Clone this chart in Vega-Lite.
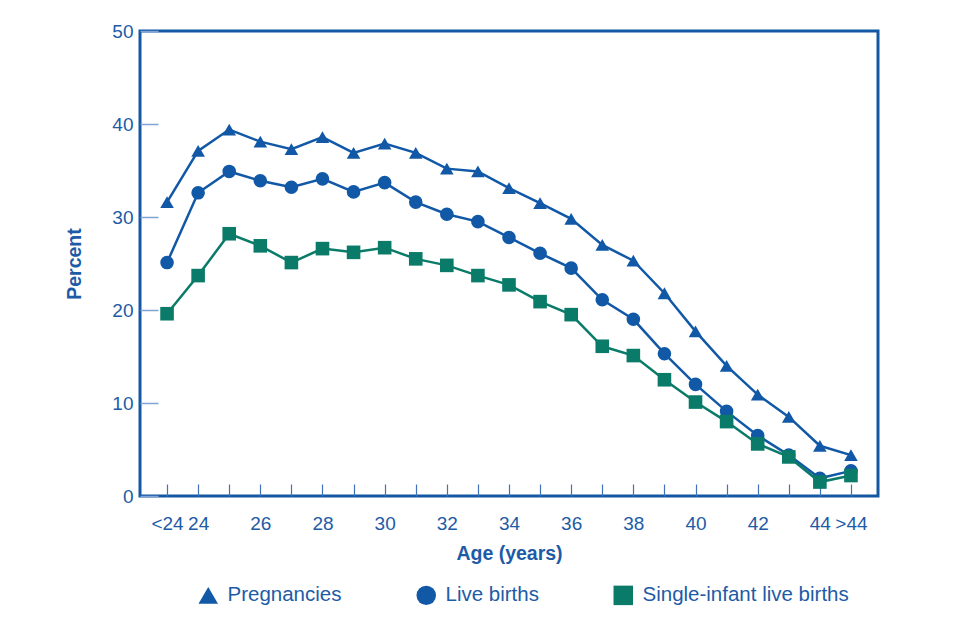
{
  "$schema": "https://vega.github.io/schema/vega-lite/v6.json",
  "autosize": "none",
  "width": 738,
  "height": 465,
  "padding": {"left": 140, "top": 31, "right": 82, "bottom": 128},
  "background": "white",
  "config": {
    "font": "Liberation Sans",
    "view": {"stroke": "#1458a4", "strokeWidth": 3},
    "axis": {"labelColor": "#1d5ba6", "titleColor": "#1d5ba6", "labelFont": "Liberation Sans", "titleFont": "Liberation Sans", "grid": false, "domain": false}
  },
  "data": {"values": [
    {"age": "<24", "series": "Pregnancies", "pct": 31.6},
    {"age": "24", "series": "Pregnancies", "pct": 37.1},
    {"age": "25", "series": "Pregnancies", "pct": 39.4},
    {"age": "26", "series": "Pregnancies", "pct": 38.1},
    {"age": "27", "series": "Pregnancies", "pct": 37.3},
    {"age": "28", "series": "Pregnancies", "pct": 38.6},
    {"age": "29", "series": "Pregnancies", "pct": 36.9},
    {"age": "30", "series": "Pregnancies", "pct": 37.9},
    {"age": "31", "series": "Pregnancies", "pct": 36.9},
    {"age": "32", "series": "Pregnancies", "pct": 35.2},
    {"age": "33", "series": "Pregnancies", "pct": 34.9},
    {"age": "34", "series": "Pregnancies", "pct": 33.1},
    {"age": "35", "series": "Pregnancies", "pct": 31.5},
    {"age": "36", "series": "Pregnancies", "pct": 29.8},
    {"age": "37", "series": "Pregnancies", "pct": 27.0},
    {"age": "38", "series": "Pregnancies", "pct": 25.3},
    {"age": "39", "series": "Pregnancies", "pct": 21.8},
    {"age": "40", "series": "Pregnancies", "pct": 17.7},
    {"age": "41", "series": "Pregnancies", "pct": 14.0},
    {"age": "42", "series": "Pregnancies", "pct": 10.9},
    {"age": "43", "series": "Pregnancies", "pct": 8.5},
    {"age": "44", "series": "Pregnancies", "pct": 5.4},
    {"age": ">44", "series": "Pregnancies", "pct": 4.4},
    {"age": "<24", "series": "Live births", "pct": 25.1},
    {"age": "24", "series": "Live births", "pct": 32.6},
    {"age": "25", "series": "Live births", "pct": 34.9},
    {"age": "26", "series": "Live births", "pct": 33.9},
    {"age": "27", "series": "Live births", "pct": 33.2},
    {"age": "28", "series": "Live births", "pct": 34.1},
    {"age": "29", "series": "Live births", "pct": 32.7},
    {"age": "30", "series": "Live births", "pct": 33.7},
    {"age": "31", "series": "Live births", "pct": 31.6},
    {"age": "32", "series": "Live births", "pct": 30.3},
    {"age": "33", "series": "Live births", "pct": 29.5},
    {"age": "34", "series": "Live births", "pct": 27.8},
    {"age": "35", "series": "Live births", "pct": 26.1},
    {"age": "36", "series": "Live births", "pct": 24.5},
    {"age": "37", "series": "Live births", "pct": 21.1},
    {"age": "38", "series": "Live births", "pct": 19.0},
    {"age": "39", "series": "Live births", "pct": 15.3},
    {"age": "40", "series": "Live births", "pct": 12.0},
    {"age": "41", "series": "Live births", "pct": 9.1},
    {"age": "42", "series": "Live births", "pct": 6.5},
    {"age": "43", "series": "Live births", "pct": 4.4},
    {"age": "44", "series": "Live births", "pct": 1.9},
    {"age": ">44", "series": "Live births", "pct": 2.7},
    {"age": "<24", "series": "Single-infant live births", "pct": 19.6},
    {"age": "24", "series": "Single-infant live births", "pct": 23.7},
    {"age": "25", "series": "Single-infant live births", "pct": 28.2},
    {"age": "26", "series": "Single-infant live births", "pct": 26.9},
    {"age": "27", "series": "Single-infant live births", "pct": 25.1},
    {"age": "28", "series": "Single-infant live births", "pct": 26.6},
    {"age": "29", "series": "Single-infant live births", "pct": 26.2},
    {"age": "30", "series": "Single-infant live births", "pct": 26.7},
    {"age": "31", "series": "Single-infant live births", "pct": 25.5},
    {"age": "32", "series": "Single-infant live births", "pct": 24.8},
    {"age": "33", "series": "Single-infant live births", "pct": 23.7},
    {"age": "34", "series": "Single-infant live births", "pct": 22.7},
    {"age": "35", "series": "Single-infant live births", "pct": 20.9},
    {"age": "36", "series": "Single-infant live births", "pct": 19.5},
    {"age": "37", "series": "Single-infant live births", "pct": 16.1},
    {"age": "38", "series": "Single-infant live births", "pct": 15.1},
    {"age": "39", "series": "Single-infant live births", "pct": 12.5},
    {"age": "40", "series": "Single-infant live births", "pct": 10.1},
    {"age": "41", "series": "Single-infant live births", "pct": 8.0},
    {"age": "42", "series": "Single-infant live births", "pct": 5.6},
    {"age": "43", "series": "Single-infant live births", "pct": 4.2},
    {"age": "44", "series": "Single-infant live births", "pct": 1.5},
    {"age": ">44", "series": "Single-infant live births", "pct": 2.2}
  ]},
  "encoding": {
    "x": {
      "field": "age", "type": "ordinal",
      "sort": ["<24","24","25","26","27","28","29","30","31","32","33","34","35","36","37","38","39","40","41","42","43","44",">44"],
      "scale": {"type": "point", "padding": 0.87},
      "axis": {
        "title": "Age (years)", "titleFontSize": 19.5, "titleFontWeight": "bold", "titlePadding": 11,
        "labelAngle": 0, "labelFontSize": 19, "labelPadding": 30,
        "labelExpr": "indexof(['25','27','29','31','33','35','37','39','41','43'], datum.label) >= 0 ? '' : datum.label",
        "tickSize": -12, "tickColor": "#3f72b8", "tickWidth": 1.2
      }
    },
    "y": {
      "field": "pct", "type": "quantitative",
      "scale": {"domain": [0, 50], "nice": false},
      "axis": {
        "title": "Percent", "titleFontSize": 19.5, "titleFontWeight": "bold", "titlePadding": 27,
        "labelFontSize": 19, "labelPadding": 25, "values": [0,10,20,30,40,50],
        "tickSize": -18, "tickColor": "#7fa3d3", "tickWidth": 1.5
      }
    },
    "color": {
      "field": "series", "type": "nominal",
      "scale": {"domain": ["Pregnancies", "Live births", "Single-infant live births"], "range": ["#1158a7", "#1158a7", "#0a7b68"]},
      "legend": {
        "title": null, "orient": "none", "legendX": 58, "legendY": 554, "direction": "horizontal",
        "labelFontSize": 20.5, "labelColor": "#1d5ba6", "labelFont": "Liberation Sans", "labelLimit": 400,
        "symbolSize": 380, "symbolStrokeWidth": 0, "columnPadding": 74, "labelOffset": 9
      }
    },
    "shape": {
      "field": "series", "type": "nominal",
      "scale": {"domain": ["Pregnancies", "Live births", "Single-infant live births"], "range": ["triangle-up", "circle", "square"]}
    }
  },
  "layer": [
    {"mark": {"type": "line", "strokeWidth": 2.5}, "encoding": {"detail": {"field": "series"}, "shape": null}},
    {"mark": {"type": "point", "filled": true, "opacity": 1, "size": 185}}
  ]
}
